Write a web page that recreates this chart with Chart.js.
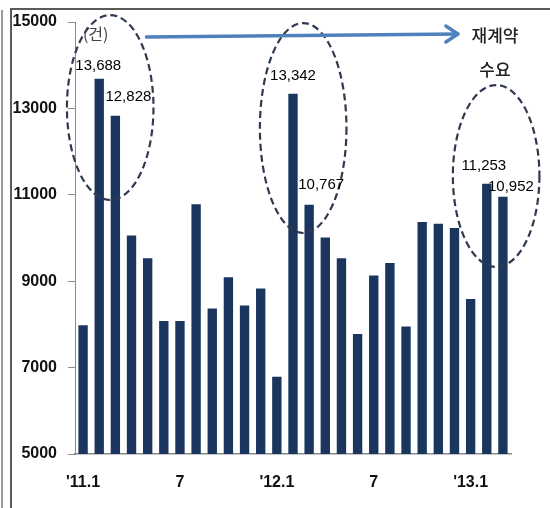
<!DOCTYPE html>
<html><head><meta charset="utf-8">
<script src="https://cdn.jsdelivr.net/npm/chart.js@4"></script>
<style>
html,body{margin:0;padding:0;background:#fff;}
#wrap{position:relative;width:550px;height:508px;overflow:hidden;background:#fff;}
#frameOuter{position:absolute;left:1px;top:10px;width:2px;height:498px;background:#9a9a9a;}
#frameInner{position:absolute;left:10px;top:8px;right:0;bottom:0;border-left:2px solid #5a5a5a;border-top:2px solid #5a5a5a;}
canvas{position:absolute;left:0;top:0;}
</style></head>
<body><div id="wrap"><div id="frameOuter"></div><div id="frameInner"></div><canvas id="c" width="550" height="508"></canvas></div>
<script>
const categories = ["'11.1","2","3","4","5","6","7","8","9","10","11","12",
                    "'12.1","2","3","4","5","6","7","8","9","10","11","12",
                    "'13.1","2","3"];
const tickLabels = ["'11.1","7","'12.1","7","'13.1"];
const contracts = [7980,13688,12828,10060,9530,8080,8080,10780,8370,9090,8440,8830,
                   6790,13342,10767,10010,9530,7780,9130,9420,7950,10370,10330,10230,
                   8590,11253,10952];
const yTicks = [5000,7000,9000,11000,13000,15000];
const labeledIdx = [1,2,13,14,25,26];
const labelOffsets = [[-1,-13],[13,-19],[0,-18],[12,-20],[-3,-18],[8,-10]];
const unitText = "(건)";
const noteLines = ["재계약","수요"];

const annot = {
  id:'annot',
  afterDraw(chart){
    const ctx = chart.ctx, xs = chart.scales.x, ys = chart.scales.y;
    const X = v => xs.getPixelForValue(v), Y = v => ys.getPixelForValue(v);
    ctx.save();
    // ellipses
    const ells = [[1.68,13020,2.68,2140],[13.63,12546,2.68,2430],[25.58,11435,2.68,2106]];
    ctx.strokeStyle = '#2e3a50'; ctx.lineWidth = 2.2; ctx.setLineDash([7,4]);
    ells.forEach(e=>{
      const cx = X(e[0]), cy = Y(e[1]);
      const rx = X(e[0]+e[2]) - cx, ry = Y(e[1]-e[3]) - cy;
      ctx.beginPath(); ctx.ellipse(cx,cy,rx,ry,0,0,Math.PI*2); ctx.stroke();
    });
    ctx.setLineDash([]);
    // arrow
    const x1 = X(3.92), y1 = Y(14653), x2 = X(23.21), y2 = Y(14722);
    ctx.strokeStyle = '#4f81bd'; ctx.lineWidth = 3.4; ctx.lineCap='round'; ctx.lineJoin='round';
    ctx.beginPath(); ctx.moveTo(x1,y1); ctx.lineTo(x2,y2); ctx.stroke();
    ctx.beginPath(); ctx.moveTo(x2-12,y2-8); ctx.lineTo(x2,y2); ctx.lineTo(x2-12,y2+8); ctx.stroke();
    // texts
    ctx.textAlign='center'; ctx.textBaseline='middle';
    ctx.font = '500 17px "Noto Sans CJK KR"'; ctx.fillStyle='#222';
    ctx.fillText(noteLines[0], X(25.51), Y(14676));
    ctx.fillText(noteLines[1], X(25.51), Y(13889));
    ctx.font = '16px "Noto Sans CJK KR"'; ctx.fillStyle='#444';
    ctx.fillText(unitText, X(0.78), Y(14722));
    // data labels
    ctx.font = '15px "Liberation Sans", Arial, sans-serif'; ctx.fillStyle='#000';
    labeledIdx.forEach((i,k)=>{
      const v = contracts[i];
      ctx.fillText(v.toLocaleString('en-US'), X(i)+labelOffsets[k][0], Y(v)+labelOffsets[k][1]);
    });
    ctx.restore();
  }
};

new Chart(document.getElementById('c'), {
  type:'bar',
  data:{labels:categories, datasets:[{data:contracts, backgroundColor:'#1a365f',
        barPercentage:0.58, categoryPercentage:1}]},
  options:{
    responsive:false, animation:false,
    layout:{padding:{top:22,right:39,bottom:0,left:0}},
    plugins:{legend:{display:false}, tooltip:{enabled:false}},
    scales:{
      x:{
        grid:{display:false, drawTicks:false},
        border:{display:true, color:'#8a8a8a', width:1.5},
        ticks:{autoSkip:false, maxRotation:0, padding:19, color:'#111',
               font:{family:'"Liberation Sans", Arial, sans-serif', size:16, weight:'bold'},
               callback:(v,i)=> tickLabels.includes(categories[i]) ? categories[i] : ''},
        afterFit:s=>{s.height=54;}
      },
      y:{
        min:5000, max:15000,
        afterBuildTicks:s=>{s.ticks = yTicks.map(v=>({value:v}));},
        grid:{drawOnChartArea:false, drawTicks:true, tickLength:7, color:'#8a8a8a'},
        border:{display:true, color:'#8a8a8a', width:1},
        ticks:{padding:11, color:'#111',
               font:{family:'"Liberation Sans", Arial, sans-serif', size:16, weight:'bold'},
               callback:v=>String(v)},
        afterFit:s=>{s.width=75;}
      }
    }
  },
  plugins:[annot]
});
</script>
</body></html>
